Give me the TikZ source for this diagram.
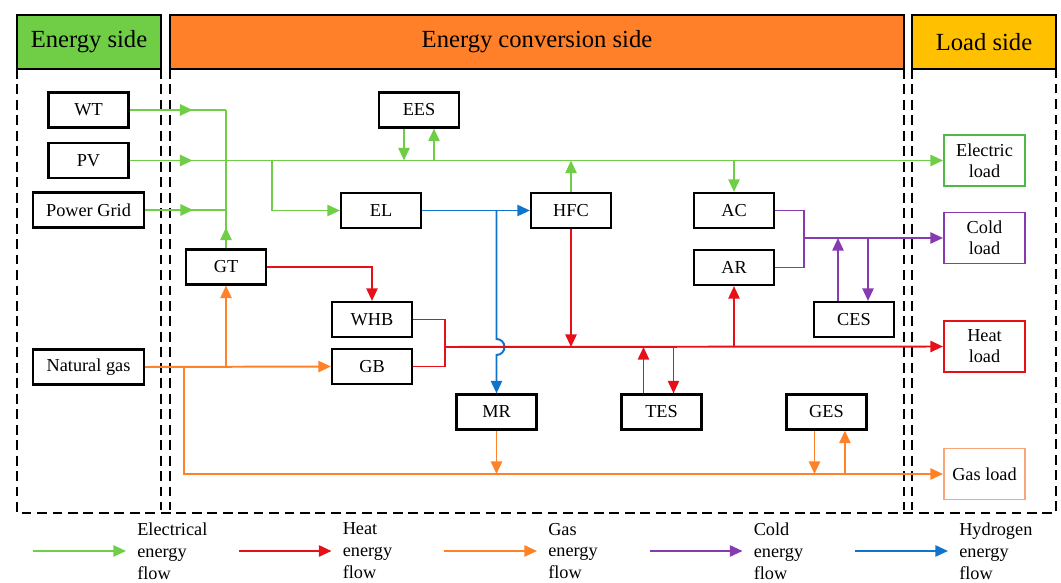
\documentclass[tikz,border=0pt]{standalone}
\usepackage{fontspec}
\setmainfont{Liberation Serif}
\usetikzlibrary{arrows.meta,decorations.markings}
\definecolor{elecgreen}{RGB}{112,206,70}
\definecolor{loadgreen}{RGB}{80,184,70}
\definecolor{heatred}{RGB}{232,16,24}
\definecolor{gasorange}{RGB}{255,130,40}
\definecolor{gaslight}{RGB}{248,168,120}
\definecolor{coldpurple}{RGB}{136,58,176}
\definecolor{hydblue}{RGB}{16,116,204}
\definecolor{headorange}{RGB}{255,128,40}
\definecolor{headyellow}{RGB}{255,192,0}
\tikzset{>={Triangle[length=9pt,width=8pt]}}
\tikzset{
  unit/.style={draw, line width=1.5pt, minimum width=2cm, minimum height=0.875cm,
    inner sep=1pt, font=\fontsize{13}{15}\selectfont},
  wideunit/.style={unit, minimum width=2.775cm},
  loadbox/.style={unit, minimum width=2.025cm, minimum height=1.275cm, align=center,
    line width=1.4pt},
  header/.style={draw, line width=1.5pt, minimum height=1.35cm, inner sep=0pt,
    font=\fontsize{17.5}{20}\selectfont},
  zone/.style={line width=1.3pt, dash pattern=on 7pt off 4pt},
  elec/.style={color=elecgreen, line width=1.4pt},
  heat/.style={color=heatred, line width=1.4pt},
  gas/.style={color=gasorange, line width=1.4pt},
  cold/.style={color=coldpurple, line width=1.4pt},
  hyd/.style={color=hydblue, line width=1.4pt},
  legtext/.style={anchor=west, align=left, inner sep=0pt, font=\fontsize{13}{15.6}\selectfont},
  flowmark/.style={postaction={decorate, decoration={markings,
    mark=at position #1 with {\arrow{>}}}}}
}

\begin{document}
\begin{tikzpicture}[x=0.025cm, y=-0.025cm]
\useasboundingbox (0,0) rectangle (1061,583);
% headers and zones
\node[header, fill=elecgreen, minimum width=3.6cm] (hdE) at (89,42) {Energy side};
\node[header, fill=headorange, minimum width=18.35cm] (hdC) at (537,42) {Energy conversion side};
\node[header, fill=headyellow, minimum width=3.6cm] (hdL) at (984,42) {Load side};
\draw[zone] (17,69) -- (17,513) -- (1056,513) -- (1056,69);
\draw[zone] (161,69) -- (161,510);
\draw[zone] (170,69) -- (170,510);
\draw[zone] (904,69) -- (904,510);
\draw[zone] (912,69) -- (912,510);

% units
\node[unit] (WT) at (88.5,110) {WT};
\node[unit] (PV) at (88.5,160.5) {PV};
\node[wideunit] (Grid) at (88.5,210) {Power Grid};
\node[wideunit] (NG) at (88.5,367) {Natural gas};
\node[unit] (GT) at (226,267) {GT};
\node[unit] (EES) at (419,110) {EES};
\node[unit] (EL) at (381,210.5) {EL};
\node[unit] (HFC) at (571,210.5) {HFC};
\node[unit] (AC) at (734,210.5) {AC};
\node[unit] (AR) at (734,267.5) {AR};
\node[unit] (CES) at (854,319.5) {CES};
\node[unit] (WHB) at (372,319.5) {WHB};
\node[unit] (GB) at (372,366.5) {GB};
\node[unit] (MR) at (496.5,412) {MR};
\node[unit] (TES) at (661.5,412) {TES};
\node[unit] (GES) at (826.5,412) {GES};
\node[loadbox, draw=loadgreen] (eload) at (984.5,160.5) {Electric\\load};
\node[loadbox, draw=coldpurple] (cload) at (984.5,238) {Cold\\load};
\node[loadbox, draw=heatred] (hload) at (984.5,346.5) {Heat\\load};
\node[loadbox, draw=gaslight] (gload) at (984.5,474) {Gas load};

\coordinate (elTap) at (272,160.5);
\coordinate (hJoin) at (445,347);
\coordinate (cJoin) at (804,238);
\coordinate (gTap) at (184,367);

% electrical
\draw[elec, flowmark=1.575cm] (WT.east) -- (GT.north |- WT.east);
\draw[elec, flowmark=1.2cm] (Grid.east) -- (GT.north |- Grid.east);
\draw[elec, flowmark=0.525cm] (GT.north) -- (GT.north |- WT.east);
\draw[elec, ->, flowmark=1.575cm] (PV.east) -- (eload.west);
\draw[elec, ->] (elTap) |- (EL.west);
\draw[elec, ->] ([xshift=-0.375cm]EES.south) -- ([xshift=-0.375cm]EES.south |- PV.east);
\draw[elec, ->] ([xshift=0.375cm]EES.south |- PV.east) -- ([xshift=0.375cm]EES.south);
\draw[elec, ->] (HFC.north) -- (HFC.north |- PV.east);
\draw[elec, ->] (AC.north |- PV.east) -- (AC.north);

% hydrogen
\draw[hyd, ->] (EL.east) -- (HFC.west);
\draw[hyd, ->] (MR.north |- EL.east) -- ([yshift=0.2cm]MR.north |- hJoin)
  arc[start angle=90, end angle=-90, radius=0.2cm] -- (MR.north);

% heat
\draw[heat, ->] (GT.east) -| (WHB.north);
\draw[heat] (WHB.east) -| (hJoin);
\draw[heat] (GB.east) -| (hJoin);
\draw[heat, ->] (hJoin) -- (hload.west);
\draw[heat, ->] (HFC.south) -- (HFC.south |- hJoin);
\draw[heat, ->] ([xshift=-0.45cm]TES.north) -- ([xshift=-0.45cm]TES.north |- hJoin);
\draw[heat, ->] ([xshift=0.3cm]TES.north |- hJoin) -- ([xshift=0.3cm]TES.north);
\draw[heat, ->] (AR.south |- hJoin) -- (AR.south);

% gas
\draw[gas, ->] (NG.east) -- (GB.west);
\draw[gas, ->] (GT.south |- NG.east) -- (GT.south);
\draw[gas, ->] (gTap) |- (gload.west);
\draw[gas, ->] (MR.south) -- (MR.south |- gload.west);
\draw[gas, ->] ([xshift=-0.3cm]GES.south) -- ([xshift=-0.3cm]GES.south |- gload.west);
\draw[gas, ->] ([xshift=0.46cm]GES.south |- gload.west) -- ([xshift=0.46cm]GES.south);

% cold
\draw[cold] (AC.east) -| (cJoin);
\draw[cold] (AR.east) -| (cJoin);
\draw[cold, ->] (cJoin) -- (cload.west);
\draw[cold, ->] ([xshift=-0.4cm]CES.north) -- ([xshift=-0.4cm]CES.north |- cJoin);
\draw[cold, ->] ([xshift=0.35cm]CES.north |- cJoin) -- ([xshift=0.35cm]CES.north);

% legend
\foreach \c/\t [count=\i] in {elec/Electrical, heat/Heat, gas/Gas, cold/Cold, hyd/Hydrogen} {
  \coordinate (lga\i) at ({33+205.5*(\i-1)},551);
  \coordinate (lgb\i) at ({126+205.5*(\i-1)},551);
  \draw[\c, ->] (lga\i) -- (lgb\i);
  \node[legtext] (lgt\i) at ([xshift=0.275cm]lgb\i) {\t\\energy\\flow};
}
\end{tikzpicture}
\end{document}
